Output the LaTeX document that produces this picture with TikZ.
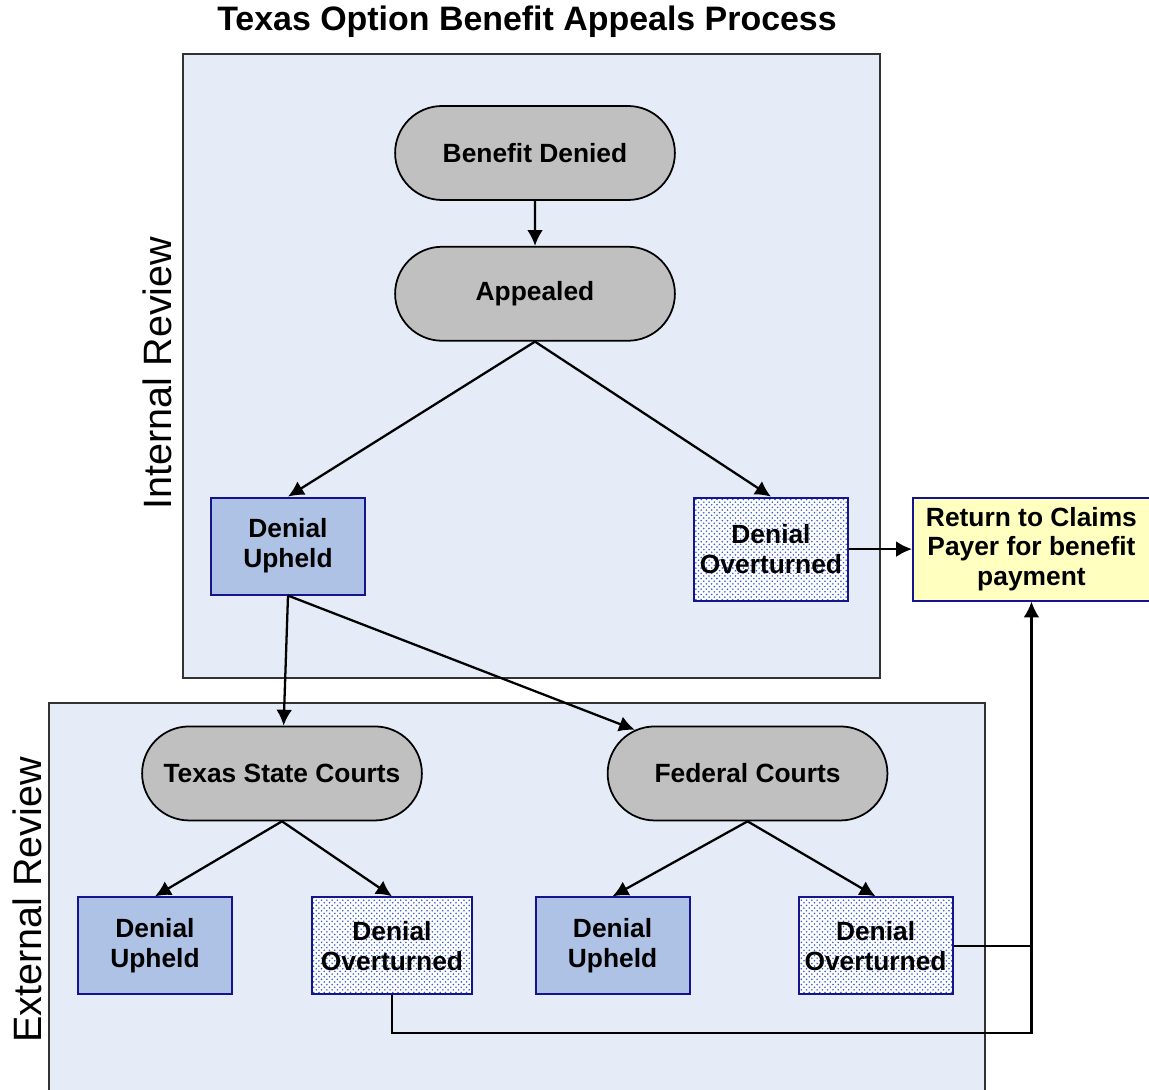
\documentclass[tikz,border=0pt]{standalone}
\usepackage{fontspec}
\setmainfont{Liberation Sans}
\usepackage{tikz}
\usetikzlibrary{shapes.misc, arrows.meta, positioning, patterns, backgrounds}

\definecolor{regionblue}{RGB}{229,236,247}
\definecolor{regionline}{RGB}{50,50,50}
\definecolor{upheldblue}{RGB}{173,194,228}
\definecolor{navyline}{RGB}{20,20,140}
\definecolor{courtgray}{RGB}{192,192,192}
\definecolor{payyellow}{RGB}{255,255,192}
\definecolor{dotblue}{RGB}{50,90,210}

\newcommand\boxfont{\fontsize{15}{17}\selectfont\bfseries}
\newcommand\titlefont{\fontsize{19.3}{23}\selectfont\bfseries}
\newcommand\sidefont{\fontsize{22.5}{27}\selectfont}

\begin{document}
\begin{tikzpicture}[
    node distance=1cm,
    court/.style={rounded rectangle, draw, fill=courtgray, line width=1pt, minimum width=5.83cm, minimum height=1.88cm, font=\boxfont},
    outcome/.style={rectangle, draw=navyline, line width=1.1pt, minimum width=3.08cm, minimum height=1.94cm, align=center, font=\boxfont},
    upheld/.style={outcome, fill=upheldblue},
    overturned/.style={outcome, preaction={fill=white}, pattern=crosshatch dots, pattern color=dotblue},
    payer/.style={outcome, fill=payyellow, minimum width=4.74cm, minimum height=2.06cm},
    region/.style={draw=regionline, fill=regionblue, line width=0.7pt},
    arrow/.style={-{Latex[length=9pt,width=9pt]}, line width=1.3pt},
    link/.style={line width=1.3pt}
]
\useasboundingbox (0,0) rectangle (22.98,-21.8);

\node[font=\titlefont] (title) at (10.54,-0.44) {Texas Option Benefit Appeals Process};
\node[font=\sidefont, rotate=90] (intlabel) at (3.14,-7.46) {Internal Review};
\node[font=\sidefont, rotate=90] (extlabel) at (0.54,-18.0) {External Review};

% internal review
\node[court] (denied) at (10.70,-3.06) {Benefit Denied};
\node[court, below=0.9cm of denied] (appealed) {Appealed};
\node[upheld, below=3.1cm of appealed, xshift=-4.94cm] (intupheld) {Denial\\Upheld};
\node[overturned, below=3.1cm of appealed, xshift=4.72cm, minimum height=2.06cm] (intover) {Denial\\Overturned};
\node[payer, right=1.26cm of intover] (claims) {Return to Claims\\Payer for benefit\\payment};

% external review
\node[court, below=2.6cm of intupheld, xshift=-0.12cm] (statecourts) {Texas State Courts};
\node[court, right=3.68cm of statecourts] (fedcourts) {Federal Courts};
\node[upheld, below=1.5cm of statecourts, xshift=-2.54cm] (stateupheld) {Denial\\Upheld};
\node[overturned, below=1.5cm of statecourts, xshift=2.2cm, minimum width=3.2cm] (stateover) {Denial\\Overturned};
\node[upheld, below=1.5cm of fedcourts, xshift=-2.7cm] (fedupheld) {Denial\\Upheld};
\node[overturned, below=1.5cm of fedcourts, xshift=2.56cm] (fedover) {Denial\\Overturned};

\begin{scope}[on background layer]
\draw[region] (3.66,-1.08) rectangle (17.60,-13.56);
\draw[region] (0.98,-14.06) rectangle (19.70,-22.2);
\end{scope}

\draw[arrow] (denied) -- (appealed);
\draw[arrow] (appealed.south) -- (intupheld.north);
\draw[arrow] (appealed.south) -- (intover.north);
\draw[arrow] (intover) -- (claims);
\draw[arrow] (intupheld.south) -- (statecourts);
\draw[arrow] (intupheld.south) -- (fedcourts);
\draw[arrow] (statecourts.south) -- (stateupheld.north);
\draw[arrow] (statecourts.south) -- (stateover.north);
\draw[arrow] (fedcourts.south) -- (fedupheld.north);
\draw[arrow] (fedcourts.south) -- (fedover.north);
\draw[arrow] (stateover.south) -- ++(0,-0.76) -| (claims.south);
\draw[link] (fedover.east) -- (fedover.east -| claims.south);
\end{tikzpicture}
\end{document}
